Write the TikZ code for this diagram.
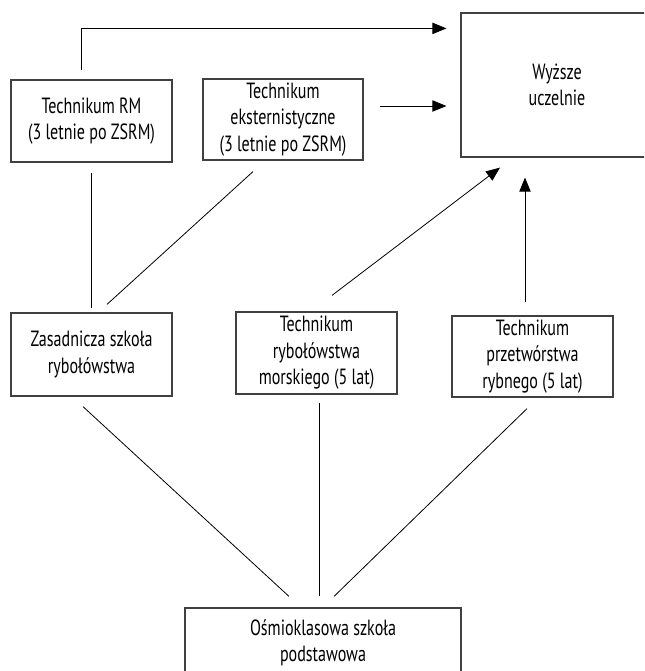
\documentclass[tikz,border=0pt]{standalone}
\usepackage{fontspec}
\setmainfont{PT Sans}[FakeStretch=0.73]
\usepackage{tikz}
\usetikzlibrary{calc,arrows.meta}
\tikzset{>={Triangle[length=10.5pt,width=8.5pt]}}
\tikzset{
  schoolbox/.style={draw=black!75,line width=0.9pt,align=center,inner sep=0pt,
    font=\fontsize{16.5}{19.8}\selectfont},
  link/.style={line width=0.6pt,black}
}

\begin{document}
\begin{tikzpicture}[x=0.75pt,y=-0.75pt]
    % Fixed frame of the picture
    \useasboundingbox (0,0) rectangle (644,671);
    \clip (0,0) rectangle (644,671);
    % Upper row
    \node[schoolbox,minimum width=161*0.75pt,minimum height=82*0.75pt] (rm) at (91.5,121)
        {Technikum RM\\(3 letnie po ZSRM)};
    \node[schoolbox,minimum width=160*0.75pt,minimum height=81*0.75pt] (eks) at (283,119.5)
        {Technikum\\eksternistyczne\\(3 letnie po ZSRM)};
    \node[schoolbox,minimum width=192*0.75pt,minimum height=144*0.75pt] (wyz) at (557,85)
        {Wyższe\\uczelnie};
    % Middle row
    \node[schoolbox,minimum width=161*0.75pt,minimum height=83*0.75pt] (zas) at (91.5,354.5)
        {Zasadnicza szkoła\\rybołówstwa};
    \node[schoolbox,minimum width=161*0.75pt,minimum height=82*0.75pt] (trm) at (316.5,353)
        {Technikum\\rybołówstwa\\morskiego (5 lat)};
    \node[schoolbox,minimum width=161*0.75pt,minimum height=81*0.75pt] (tpr) at (532.5,356.5)
        {Technikum\\przetwórstwa\\rybnego (5 lat)};
    % Bottom box (cut by the frame)
    \node[schoolbox,minimum width=276*0.75pt,minimum height=70*0.75pt] (osm) at (323,643)
        {Ośmioklasowa szkoła\\podstawowa};
    % Arrows into the universities
    \draw[link,->] ($(rm.north)+(-10.5,-9)$) |- ($(wyz.north west)+(-14,16)$);
    \draw[link,->] ($(eks.east)+(16,-13.5)$) coordinate (e1) -- ($(wyz.west|-e1)+(-14,0)$);
    \draw[link,->] ($(trm.north)+(15.5,-16)$) -- ($(wyz.south)+(-57,10)$);
    \draw[link,->] ($(tpr.north)+(-7.5,-13)$) -- ($(wyz.south)+(-32,20)$);
    % Plain links
    \draw[link] ($(rm.south)+(-0.5,10)$) -- ($(zas.north)+(-0.5,-4)$);
    \draw[link] ($(eks.south)+(-30,11)$) -- ($(zas.north)+(15.5,-8)$);
    \draw[link] ($(zas.south)+(-8.5,10)$) -- ($(osm.north)+(-34,-11)$);
    \draw[link] ($(trm.south)+(2.5,8)$) -- ($(osm.north)+(-4,-11)$);
    \draw[link] ($(tpr.south)+(-5.5,11)$) -- ($(osm.north)+(11,-11)$);
\end{tikzpicture}
\end{document}
